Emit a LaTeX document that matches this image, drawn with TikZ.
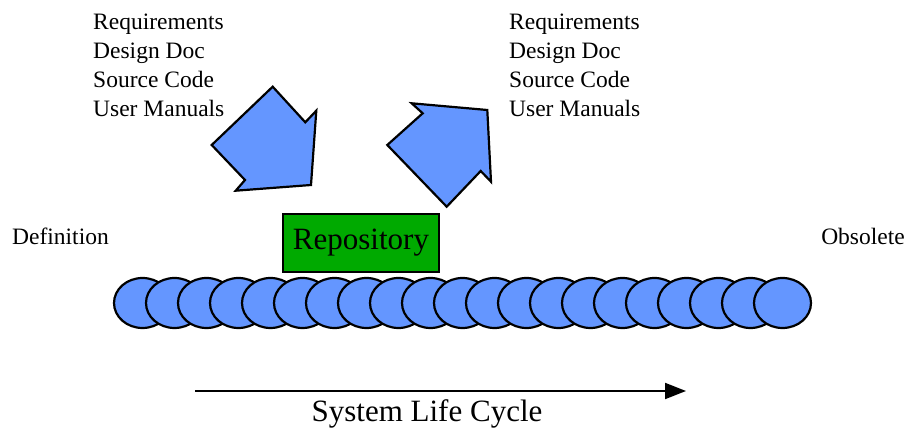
\documentclass[tikz,border=0pt]{standalone}
\usepackage{fontspec}
\setmainfont{Liberation Serif}
\usepackage{tikz}
\usetikzlibrary{arrows.meta,positioning,shapes.geometric}
\definecolor{myblue}{RGB}{100,150,255}
\definecolor{mygreen}{RGB}{0,170,0}

\begin{document}
\begin{tikzpicture}[x=1pt,y=-1pt,
  phase/.style={ellipse, draw=black, fill=myblue, line width=2.2pt,
                minimum width=57pt, minimum height=50pt, inner sep=0pt},
  repo/.style={rectangle, draw=black, fill=mygreen, line width=2.2pt,
               minimum width=156pt, minimum height=58pt, inner sep=0pt,
               font=\fontsize{31}{36}\selectfont},
  lbl/.style={inner sep=0pt, font=\fontsize{23.5}{28}\selectfont},
  bigarr/.style={draw=black, fill=myblue, line width=2.2pt, line join=miter},
  arr/.style={-{Triangle[length=21pt,width=16pt]}, line width=2pt}
]
  \useasboundingbox (0,0) rectangle (906,430);

  % documents going in and out
  \foreach \txt [count=\i] in {Requirements,Design Doc,Source Code,User Manuals}{
    \node[lbl, anchor=base west] (docin\i) at (93,30+29*\i-29) {\txt};
    \node[lbl, anchor=base west] (docout\i) at (509,30+29*\i-29) {\txt};
  }

  % fat arrows
  \draw[bigarr] (211.7,145) -- (272.7,86.7) -- (305.3,122.3) -- (316.3,110.7)
    -- (311,185) -- (235.7,190.7) -- (245,180) -- cycle;
  \draw[bigarr] (387.3,145) -- (422.7,113.3) -- (411.7,103.3) -- (487.3,110)
    -- (491,181.7) -- (480.7,171) -- (446.7,206.7) -- cycle;

  \node[lbl, anchor=base west] (defn) at (12,245) {Definition};
  \node[lbl, anchor=base east] (obs) at (905,245) {Obsolete};

  \node[repo] (repo) at (361,243) {Repository};

  % life cycle phases
  \foreach \i in {0,...,20}
    \node[phase] (ph\i) at (142.5+32*\i,303) {};

  \coordinate (lcstart) at (195,391);
  \coordinate (lcend) at (686,391);
  \draw[arr] (lcstart) -- (lcend);
  \node[lbl, font=\fontsize{31}{36}\selectfont, anchor=base] (lctxt) at (427,422) {System Life Cycle};
\end{tikzpicture}
\end{document}
